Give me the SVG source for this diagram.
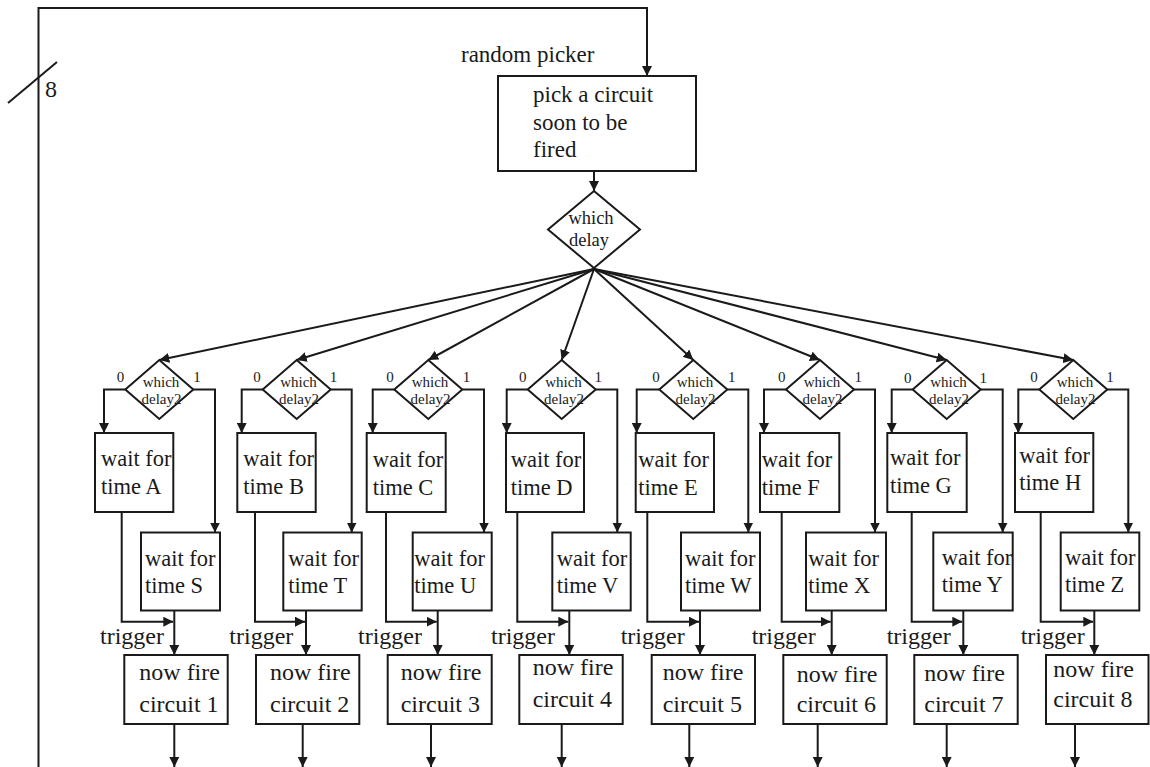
<svg xmlns="http://www.w3.org/2000/svg" width="1150" height="767" viewBox="0 0 1150 767">
<defs>
<marker id="ah" viewBox="0 0 10 10" refX="10" refY="5" markerWidth="10" markerHeight="10" markerUnits="userSpaceOnUse" orient="auto"><path d="M0,0 L10,5 L0,10 z" fill="#1a1a1a"/></marker>
</defs>
<style>
.ln{stroke:#1a1a1a;stroke-width:2;fill:none;marker-end:url(#ah)}
.pl{stroke:#1a1a1a;stroke-width:2;fill:none}
.box{fill:#fff;stroke:#1a1a1a;stroke-width:2}
text{font-family:"Liberation Serif","Times New Roman",serif;fill:#1a1a1a}
.big{font-size:23px}
.w{font-size:22.5px}
.f{font-size:24px}
.tr{font-size:24px}
.dm{font-size:15px;text-anchor:middle}
.lb{font-size:15px;text-anchor:middle}
.bd{font-size:18.5px;text-anchor:middle}
</style>
<rect width="1150" height="767" fill="#fff"/>

<g id="connectors">
<path class="ln" d="M38.5,767 V8 H647 V76"/>
<path class="pl" d="M8,103 L57,62"/>
<path class="ln" d="M594,171 V191"/>
<path class="ln" d="M594,269 L159.3,360"/>
<path class="ln" d="M594,269 L296.7,360"/>
<path class="ln" d="M594,269 L428.3,360"/>
<path class="ln" d="M594,269 L561.7,360"/>
<path class="ln" d="M594,269 L693.3,360"/>
<path class="ln" d="M594,269 L820,360"/>
<path class="ln" d="M594,269 L946.7,360"/>
<path class="ln" d="M594,269 L1073.3,360"/>
<!-- col1 -->
<path class="ln" d="M125.3,389.5 H104 V433"/>
<path class="ln" d="M193.3,389.5 H215 V532.5"/>
<path class="ln" d="M121.7,512 V621.7 H173.3"/>
<path class="ln" d="M174.3,610.5 V655"/>
<path class="ln" d="M174.3,724 V767"/>
<!-- col2 -->
<path class="ln" d="M262.7,389.5 H241.7 V433"/>
<path class="ln" d="M330.7,389.5 H351.7 V532.5"/>
<path class="ln" d="M255,512 V621.7 H305"/>
<path class="ln" d="M306,610.5 V655"/>
<path class="ln" d="M302.7,724 V767"/>
<!-- col3 -->
<path class="ln" d="M394.3,389.5 H372.7 V433"/>
<path class="ln" d="M462.3,389.5 H484 V532.5"/>
<path class="ln" d="M386,512 V621.7 H436.7"/>
<path class="ln" d="M437.7,610.5 V655"/>
<path class="ln" d="M431,724 V767"/>
<!-- col4 -->
<path class="ln" d="M527.7,389.5 H506.7 V433"/>
<path class="ln" d="M595.7,389.5 H617.3 V532.5"/>
<path class="ln" d="M517.3,512 V621.7 H568.3"/>
<path class="ln" d="M569.3,610.5 V655"/>
<path class="ln" d="M561.7,724 V767"/>
<!-- col5 -->
<path class="ln" d="M659.3,389.5 H636.7 V433"/>
<path class="ln" d="M727.3,389.5 H748.3 V532.5"/>
<path class="ln" d="M647.3,512 V621.7 H699"/>
<path class="ln" d="M700,610.5 V655"/>
<path class="ln" d="M689.3,724 V767"/>
<!-- col6 -->
<path class="ln" d="M786,389.5 H764 V433"/>
<path class="ln" d="M854,389.5 H875 V532.5"/>
<path class="ln" d="M781.7,512 V621.7 H830.7"/>
<path class="ln" d="M831.7,610.5 V655"/>
<path class="ln" d="M817.7,724 V767"/>
<!-- col7 -->
<path class="ln" d="M912.7,389.5 H891.7 V433"/>
<path class="ln" d="M980.7,389.5 H1002.7 V532.5"/>
<path class="ln" d="M911.7,512 V621.7 H962.3"/>
<path class="ln" d="M963.3,610.5 V655"/>
<path class="ln" d="M946.7,724 V767"/>
<!-- col8 -->
<path class="ln" d="M1039.3,389.5 H1018.3 V433"/>
<path class="ln" d="M1107.3,389.5 H1128.3 V532.5"/>
<path class="ln" d="M1040.7,512 V621.7 H1093.3"/>
<path class="ln" d="M1094.3,610.5 V655"/>
<path class="ln" d="M1075,724 V767"/>
</g>

<g id="labels">
<text x="461" y="62" class="big">random picker</text>
<text x="45" y="97" style="font-size:24px">8</text>
</g>

<g id="pick">
<rect class="box" x="498" y="76" width="198" height="95"/>
<text class="big" x="533" y="102">pick a circuit</text>
<text class="big" x="533" y="130">soon to be</text>
<text class="big" x="533" y="157">fired</text>
</g>

<g id="which-delay">
<polygon class="box" points="594,191 640,229.5 594,268 548,229.5"/>
<text class="bd" x="591" y="224">which</text>
<text class="bd" x="589" y="246">delay</text>
</g>

<!-- column 1 -->
<g id="d1"><polygon class="box" points="159.3,360 193.3,389.5 159.3,419 125.3,389.5"/><text class="dm" x="161" y="387">which</text><text class="dm" x="161.5" y="404">delay2</text><text class="lb" x="120.5" y="382">0</text><text class="lb" x="197" y="382">1</text></g>
<g id="wA"><rect class="box" x="95" y="433" width="78.3" height="79"/><text class="w" x="101" y="466">wait for</text><text class="w" x="101" y="494">time A</text></g>
<g id="wS"><rect class="box" x="141" y="532.5" width="79" height="78"/><text class="w" x="145" y="566">wait for</text><text class="w" x="145" y="593">time S</text></g>
<g id="tr1"><text class="tr" x="100" y="644">trigger</text></g>
<g id="f1"><rect class="box" x="124.3" y="655" width="103.4" height="69"/><text class="f" x="139.3" y="680">now fire</text><text class="f" x="139.3" y="711.7">circuit 1</text></g>

<!-- column 2 -->
<g id="d2"><polygon class="box" points="296.7,360 330.7,389.5 296.7,419 262.7,389.5"/><text class="dm" x="298.5" y="387">which</text><text class="dm" x="299" y="404">delay2</text><text class="lb" x="257" y="382">0</text><text class="lb" x="333.5" y="382">1</text></g>
<g id="wB"><rect class="box" x="237.3" y="433" width="78.4" height="79"/><text class="w" x="243.3" y="466">wait for</text><text class="w" x="243.3" y="494">time B</text></g>
<g id="wT"><rect class="box" x="283.3" y="532.5" width="78.4" height="78"/><text class="w" x="288.3" y="566">wait for</text><text class="w" x="288.3" y="593">time T</text></g>
<g id="tr2"><text class="tr" x="229.3" y="644">trigger</text></g>
<g id="f2"><rect class="box" x="256" y="655" width="103.3" height="69"/><text class="f" x="270" y="680">now fire</text><text class="f" x="270" y="711.7">circuit 2</text></g>

<!-- column 3 -->
<g id="d3"><polygon class="box" points="428.3,360 462.3,389.5 428.3,419 394.3,389.5"/><text class="dm" x="430" y="387">which</text><text class="dm" x="430.5" y="404">delay2</text><text class="lb" x="390" y="382">0</text><text class="lb" x="466.5" y="382">1</text></g>
<g id="wC"><rect class="box" x="366.7" y="433" width="79" height="79"/><text class="w" x="372.7" y="467">wait for</text><text class="w" x="372.7" y="495">time C</text></g>
<g id="wU"><rect class="box" x="412.7" y="532.5" width="79" height="78"/><text class="w" x="414.3" y="566">wait for</text><text class="w" x="414.3" y="593">time U</text></g>
<g id="tr3"><text class="tr" x="358" y="644">trigger</text></g>
<g id="f3"><rect class="box" x="387.7" y="655" width="104" height="69"/><text class="f" x="400.7" y="680">now fire</text><text class="f" x="400.7" y="711.7">circuit 3</text></g>

<!-- column 4 -->
<g id="d4"><polygon class="box" points="561.7,360 595.7,389.5 561.7,419 527.7,389.5"/><text class="dm" x="563.5" y="387">which</text><text class="dm" x="564" y="404">delay2</text><text class="lb" x="522.7" y="382">0</text><text class="lb" x="598.3" y="382">1</text></g>
<g id="wD"><rect class="box" x="506" y="433" width="78" height="79"/><text class="w" x="510.7" y="467">wait for</text><text class="w" x="510.7" y="495">time D</text></g>
<g id="wV"><rect class="box" x="552.3" y="532.5" width="78.4" height="78"/><text class="w" x="556.7" y="566">wait for</text><text class="w" x="556.7" y="593">time V</text></g>
<g id="tr4"><text class="tr" x="491" y="644">trigger</text></g>
<g id="f4"><rect class="box" x="519.3" y="655" width="103.4" height="69"/><text class="f" x="532.7" y="675">now fire</text><text class="f" x="532.7" y="706.7">circuit 4</text></g>

<!-- column 5 -->
<g id="d5"><polygon class="box" points="693.3,360 727.3,389.5 693.3,419 659.3,389.5"/><text class="dm" x="695" y="387">which</text><text class="dm" x="695.5" y="404">delay2</text><text class="lb" x="656" y="382">0</text><text class="lb" x="731.7" y="382">1</text></g>
<g id="wE"><rect class="box" x="635.7" y="433" width="78.3" height="79"/><text class="w" x="638.3" y="467">wait for</text><text class="w" x="638.3" y="495">time E</text></g>
<g id="wW"><rect class="box" x="681" y="532.5" width="79" height="78"/><text class="w" x="685" y="566">wait for</text><text class="w" x="685" y="593">time W</text></g>
<g id="tr5"><text class="tr" x="620.7" y="644">trigger</text></g>
<g id="f5"><rect class="box" x="651.7" y="655" width="103.3" height="69"/><text class="f" x="662.7" y="680">now fire</text><text class="f" x="662.7" y="711.7">circuit 5</text></g>

<!-- column 6 -->
<g id="d6"><polygon class="box" points="820,360 854,389.5 820,419 786,389.5"/><text class="dm" x="822" y="387">which</text><text class="dm" x="822.5" y="404">delay2</text><text class="lb" x="781.7" y="382">0</text><text class="lb" x="858.3" y="382">1</text></g>
<g id="wF"><rect class="box" x="760" y="433" width="79.3" height="79"/><text class="w" x="761.7" y="467">wait for</text><text class="w" x="761.7" y="495">time F</text></g>
<g id="wX"><rect class="box" x="806" y="532.5" width="80" height="78"/><text class="w" x="808.3" y="566">wait for</text><text class="w" x="808.3" y="593">time X</text></g>
<g id="tr6"><text class="tr" x="751.7" y="644">trigger</text></g>
<g id="f6"><rect class="box" x="783.3" y="655" width="103.4" height="69"/><text class="f" x="796.7" y="682">now fire</text><text class="f" x="796.7" y="711.7">circuit 6</text></g>

<!-- column 7 -->
<g id="d7"><polygon class="box" points="946.7,360 980.7,389.5 946.7,419 912.7,389.5"/><text class="dm" x="948.5" y="387">which</text><text class="dm" x="949" y="404">delay2</text><text class="lb" x="907.7" y="383">0</text><text class="lb" x="983.3" y="383">1</text></g>
<g id="wG"><rect class="box" x="887.3" y="433" width="79.4" height="79"/><text class="w" x="890" y="465">wait for</text><text class="w" x="890" y="493">time G</text></g>
<g id="wY"><rect class="box" x="933.3" y="532.5" width="79.4" height="78"/><text class="w" x="941.7" y="565">wait for</text><text class="w" x="941.7" y="592">time Y</text></g>
<g id="tr7"><text class="tr" x="886.7" y="644">trigger</text></g>
<g id="f7"><rect class="box" x="914.3" y="655" width="103.4" height="69"/><text class="f" x="924.3" y="681">now fire</text><text class="f" x="924.3" y="711.7">circuit 7</text></g>

<!-- column 8 -->
<g id="d8"><polygon class="box" points="1073.3,360 1107.3,389.5 1073.3,419 1039.3,389.5"/><text class="dm" x="1075" y="387">which</text><text class="dm" x="1075.5" y="404">delay2</text><text class="lb" x="1034" y="382">0</text><text class="lb" x="1110" y="382">1</text></g>
<g id="wH"><rect class="box" x="1015" y="433" width="78.3" height="79"/><text class="w" x="1019.3" y="463">wait for</text><text class="w" x="1019.3" y="490">time H</text></g>
<g id="wZ"><rect class="box" x="1060.7" y="532.5" width="78.6" height="78"/><text class="w" x="1065" y="565">wait for</text><text class="w" x="1065" y="592">time Z</text></g>
<g id="tr8"><text class="tr" x="1020.7" y="644">trigger</text></g>
<g id="f8"><rect class="box" x="1046" y="655" width="102.5" height="69"/><text class="f" x="1053.3" y="676.7">now fire</text><text class="f" x="1053.3" y="706.7">circuit 8</text></g>
</svg>
